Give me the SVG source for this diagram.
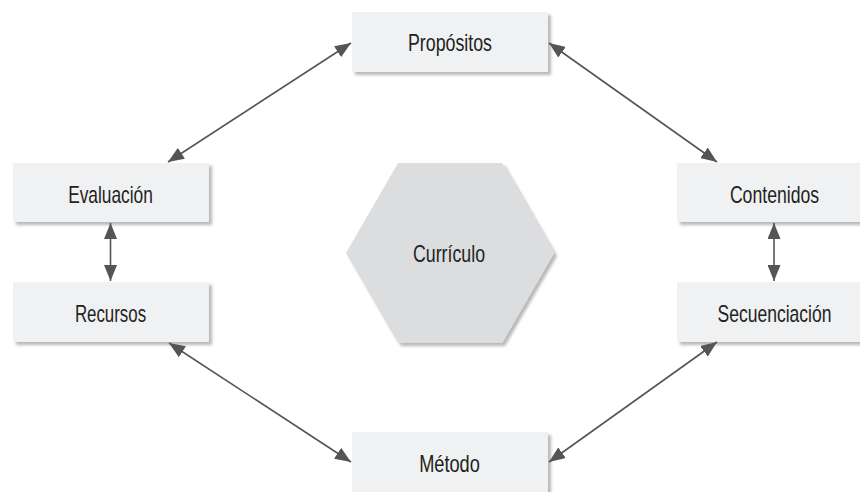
<svg xmlns="http://www.w3.org/2000/svg" width="860" height="492" viewBox="0 0 860 492">
  <style>
    .box { fill: #f0f1f3; filter: url(#shadow); }
    .hex { fill: #dcdddf; filter: url(#shadow); }
    .label { font-family: "Liberation Sans", Arial, sans-serif; font-size: 24px; fill: #231f20; text-anchor: middle; }
    .link { stroke: #555555; stroke-width: 1.6; fill: none; marker-start: url(#head); marker-end: url(#head); }
  </style>
  <defs>
    <filter id="shadow" x="-10%" y="-10%" width="125%" height="130%">
      <feDropShadow dx="3" dy="3" stdDeviation="1.8" flood-color="#000000" flood-opacity="0.28"/>
    </filter>
    <marker id="head" markerUnits="userSpaceOnUse" markerWidth="17" markerHeight="13" refX="16" refY="6.5" orient="auto-start-reverse">
      <path d="M0,0 L16,6.5 L0,13 z" fill="#555555"/>
    </marker>
  </defs>

  <!-- labels use a narrowed sans (horizontal scale 0.75) -->
  <g id="curriculo">
    <polygon class="hex" points="346,253 398,163 502,163 554,253 502,343 398,343"/>
    <text class="label" transform="translate(449,262) scale(0.75,1)" textLength="96" lengthAdjust="spacingAndGlyphs">Currículo</text>
  </g>

  <g id="propositos">
    <rect class="box" x="352" y="12" width="196" height="60"/>
    <text class="label" transform="translate(450,51) scale(0.75,1)" textLength="112" lengthAdjust="spacingAndGlyphs">Propósitos</text>
  </g>

  <g id="evaluacion">
    <rect class="box" x="13" y="163" width="196" height="59"/>
    <text class="label" transform="translate(110.5,203) scale(0.75,1)" textLength="113" lengthAdjust="spacingAndGlyphs">Evaluación</text>
  </g>

  <g id="recursos">
    <rect class="box" x="13" y="282" width="196" height="60"/>
    <text class="label" transform="translate(110.5,322) scale(0.75,1)" textLength="95" lengthAdjust="spacingAndGlyphs">Recursos</text>
  </g>

  <g id="contenidos">
    <rect class="box" x="677" y="163" width="183" height="59"/>
    <text class="label" transform="translate(774.5,203) scale(0.75,1)" textLength="119" lengthAdjust="spacingAndGlyphs">Contenidos</text>
  </g>

  <g id="secuenciacion">
    <rect class="box" x="677" y="282" width="183" height="60"/>
    <text class="label" transform="translate(774.5,322) scale(0.75,1)" textLength="152" lengthAdjust="spacingAndGlyphs">Secuenciación</text>
  </g>

  <g id="metodo">
    <rect class="box" x="352" y="432" width="196" height="60"/>
    <text class="label" transform="translate(449.5,472) scale(0.75,1)" textLength="81" lengthAdjust="spacingAndGlyphs">Método</text>
  </g>

  <g id="connectors">
    <line class="link" x1="351" y1="43" x2="168" y2="162"/>
    <line class="link" x1="549" y1="43" x2="717" y2="162"/>
    <line class="link" x1="110.5" y1="223" x2="110.5" y2="281"/>
    <line class="link" x1="774" y1="223" x2="774" y2="281"/>
    <line class="link" x1="169" y1="343" x2="351" y2="462"/>
    <line class="link" x1="717" y1="342" x2="549" y2="462"/>
  </g>
</svg>
